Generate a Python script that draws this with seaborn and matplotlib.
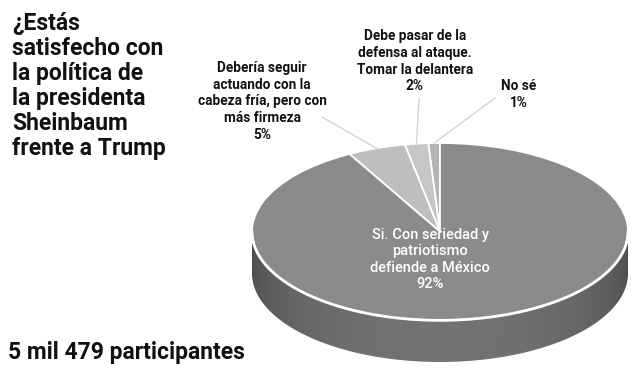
import numpy as np
import matplotlib
matplotlib.use("Agg")
import matplotlib.pyplot as plt
from matplotlib.patches import Polygon
import seaborn as sns

sns.set_theme(style="white")
plt.rcParams['font.family'] = ['Roboto', 'DejaVu Sans']

# Datos de la encuesta
categorias = ["No sé",
              "Debe pasar de la\ndefensa al ataque.\nTomar la delantera",
              "Debería seguir\nactuando con la\ncabeza fría, pero con\nmás firmeza",
              "Si. Con seriedad y\npatriotismo\ndefiende a México"]
porcentajes = [1, 2, 5, 92]
colores = ["#b4b4b4", "#c6c6c6", "#bebebe", "#8b8b8b"]

titulo = "¿Estás\nsatisfecho con\nla política de\nla presidenta\nSheinbaum\nfrente a Trump"
participantes = "5 mil 479 participantes"

W, H = 641, 389
fig = plt.figure(figsize=(W / 100, H / 100), dpi=100)
fig.patch.set_facecolor("white")

# pastel "3D": ejes comprimidos para que el círculo sea una elipse
depth = 0.47
ax = fig.add_axes([252 / W, 1 - 362 / H, 376 / W, 219 / H])
ax.axis("off")

# lateral del pastel con degradado
t = np.linspace(np.pi, 2 * np.pi, 200)
side = np.concatenate([np.c_[np.cos(t), np.sin(t) - depth],
                       np.c_[np.cos(t[::-1]), np.sin(t[::-1])]])
poly = Polygon(side, closed=True, facecolor="none", edgecolor="none")
ax.add_patch(poly)
xs = np.linspace(-1, 1, 300)
grad = 0.30 + 0.15 * np.sqrt(1 - xs ** 2)
img = ax.imshow(grad[None, :], cmap="gray", vmin=0, vmax=1, aspect="auto",
                extent=[-1, 1, -1 - depth, 0], zorder=1)
img.set_clip_path(poly)

wedges, _ = ax.pie(porcentajes, colors=colores, startangle=90, counterclock=True,
                   radius=1, wedgeprops=dict(edgecolor="white", linewidth=1.3))
for w in wedges:
    w.set_zorder(2)
ax.set_xlim(-1, 1)
ax.set_ylim(-1 - depth, 1)
ax.set_aspect("auto")

# borde blanco inferior
ax.plot(np.cos(t), np.sin(t), color="white", lw=2, zorder=3)

# etiquetas
lab_font = dict(fontsize=9.8, fontweight="bold", color="#111111", ha="center",
                linespacing=1.25)
ends = [(495, 98), (419, 98), (322, 117)]
text_pos = [(519, 79), (415, 29), (262, 61)]
for i, (end, tp) in enumerate(zip(ends, text_pos)):
    w = wedges[i]
    ang = np.deg2rad((w.theta1 + w.theta2) / 2)
    ax.annotate("", xy=(np.cos(ang), np.sin(ang)), xycoords="data",
                xytext=(end[0], H - end[1]), textcoords="figure pixels",
                arrowprops=dict(arrowstyle="-", color="#d4d4d4", lw=1,
                                shrinkA=0, shrinkB=0))
    fig.text(tp[0] / W, 1 - tp[1] / H, f"{categorias[i]}\n{porcentajes[i]}%",
             va="top", **lab_font)

fig.text(430 / W, 1 - 228 / H, f"{categorias[3]}\n{porcentajes[3]}%",
         ha="center", va="top", color="white", fontsize=10.5,
         fontweight="medium", linespacing=1.22)

fig.text(12 / W, 1 - 12 / H, titulo, ha="left", va="top", fontsize=16.5,
         fontweight="bold", color="#111111", linespacing=1.11)
fig.text(8 / W, 1 - 359 / H, participantes, ha="left", va="baseline",
         fontsize=16.5, fontweight="bold", color="#111111")

fig.savefig("out.png", dpi=100, facecolor="white")
